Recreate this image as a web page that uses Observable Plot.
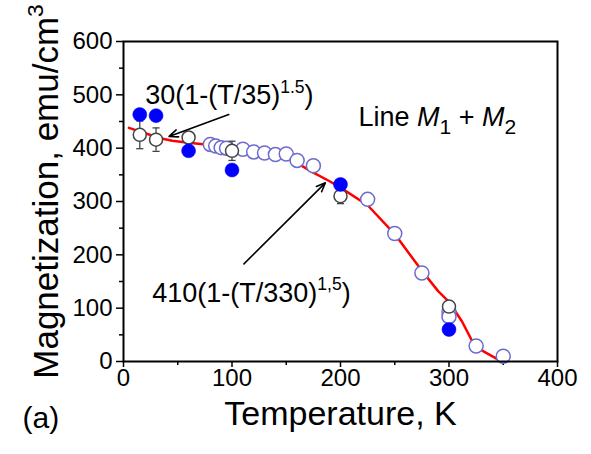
<!DOCTYPE html>
<html>
<head>
<meta charset="utf-8">
<script src="https://cdn.jsdelivr.net/npm/d3@7"></script>
<script src="https://cdn.jsdelivr.net/npm/@observablehq/plot@0.6"></script>
<style>
  html, body { margin: 0; padding: 0; background: white; }
</style>
</head>
<body>
<div id="chart"></div>
<script>
// Fit line (M1 + M2)
const fitT = [5, 20, 35, 45, 60, 80, 100, 120, 140, 150, 160, 175, 190, 200, 225, 250, 275, 290, 300, 312, 324, 345];
const fitM = [438, 428, 418, 414, 410, 406, 402, 397, 390, 383, 372, 354, 338, 326, 293, 239, 170, 132, 112, 75, 28, 4];

// Open blue circles
const openT = [80, 85, 90, 95, 110, 120, 130, 140, 150, 160, 175, 225, 250, 275, 300, 300, 325, 350];
const openM = [407, 404, 401, 400, 398, 393, 391, 388, 389, 377, 367, 304, 240, 166, 93, 84, 29, 10];

// Open black circles with error bars
const errT = [15, 30, 60, 100, 200, 300];
const errM = [425, 416, 420, 395, 310, 103];
const errD = [26, 22, 10, 18, 14, 6];

// Filled blue circles
const fillT = [15, 30, 60, 100, 200, 300];
const fillM = [463, 461, 395, 359, 332, 60];

// Axis ticks
const xTicks = [0, 100, 200, 300, 400];
const xMinor = [50, 150, 250, 350];
const yTicks = [0, 100, 200, 300, 400, 500, 600];
const yMinor = [50, 150, 250, 350, 450, 550];

// Texts
const xLabel = "Temperature, K";
const yLabel = "Magnetization, emu/cm^{3}";
const panelLabel = "(a)";
const noteLow = "30(1-(T/35)^{1.5})";
const noteHigh = "410(1-(T/330)^{1,5})";
const noteLine = "Line *{M}_{1} + *{M}_{2}";

const fit = fitT.map((T, i) => ({T, M: fitM[i]}));
const open = openT.map((T, i) => ({T, M: openM[i]}));
const err = errT.map((T, i) => ({T, M: errM[i], d: errD[i]}));
const filled = fillT.map((T, i) => ({T, M: fillM[i]}));
const arrows = [
  {x1: 97, y1: 463, x2: 42, y2: 422},
  {x1: 111, y1: 183, x2: 186, y2: 335}
];

const font = "'Liberation Sans', Arial, Helvetica, sans-serif";

const chart = Plot.plot({
  width: 591,
  height: 454,
  marginLeft: 123,
  marginRight: 34,
  marginTop: 41,
  marginBottom: 93,
  x: {domain: [0, 400], label: null},
  y: {domain: [0, 600], label: null},
  style: {fontFamily: font, fontSize: "24px", color: "black", background: "white"},
  marks: [
    Plot.axisX({ticks: xTicks, tickSize: 6, tickPadding: 1, strokeWidth: 1.5, label: null, fontSize: 24}),
    Plot.axisX({ticks: xMinor, tickSize: 4, strokeWidth: 1.5, tickFormat: () => "", label: null}),
    Plot.axisY({ticks: yTicks, tickSize: 7, tickPadding: 4, strokeWidth: 1.5, label: null, fontSize: 24}),
    Plot.axisY({ticks: yMinor, tickSize: 4, strokeWidth: 1.5, tickFormat: () => "", label: null}),
    Plot.line(fit, {x: "T", y: "M", stroke: "#ff0000", strokeWidth: 2.5}),
    Plot.dot(open, {x: "T", y: "M", r: 7, stroke: "#6b6bd0", strokeWidth: 1.5, fill: "white"}),
    Plot.ruleX(err, {x: "T", y1: d => d.M - d.d, y2: d => d.M + d.d, stroke: "#444", strokeWidth: 1.3}),
    Plot.link(err, {x1: d => d.T - 3.3, x2: d => d.T + 3.3, y1: d => d.M - d.d, y2: d => d.M - d.d, stroke: "#444", strokeWidth: 1.3}),
    Plot.link(err, {x1: d => d.T - 3.3, x2: d => d.T + 3.3, y1: d => d.M + d.d, y2: d => d.M + d.d, stroke: "#444", strokeWidth: 1.3}),
    Plot.dot(err, {x: "T", y: "M", r: 6.5, stroke: "#444", strokeWidth: 1.5, fill: "white"}),
    Plot.dot(filled, {x: "T", y: "M", r: 7, fill: "#0000ff", stroke: "#0000ff", strokeWidth: 0.5}),
    Plot.arrow(arrows, {x1: "x1", y1: "y1", x2: "x2", y2: "y2", stroke: "black", strokeWidth: 1.6, headLength: 9, headAngle: 45}),
    Plot.text([noteLow], {x: 20, y: 482, text: d => d, textAnchor: "start", lineAnchor: "bottom", fontSize: 27}),
    Plot.text([noteHigh], {x: 26.5, y: 112, text: d => d, textAnchor: "start", lineAnchor: "bottom", fontSize: 27}),
    Plot.text([noteLine], {x: 216.5, y: 441, text: d => d, textAnchor: "start", lineAnchor: "bottom", fontSize: 27}),
    Plot.text([xLabel], {frameAnchor: "bottom", dy: 63, text: d => d, textAnchor: "middle", fontSize: 34}),
    Plot.text([panelLabel], {frameAnchor: "bottom-left", dx: -101, dy: 66, text: d => d, textAnchor: "start", fontSize: 30}),
    Plot.text([yLabel], {frameAnchor: "left", dx: -77, dy: -10, rotate: -90, text: d => d, textAnchor: "middle", fontSize: 35}),
    Plot.frame({stroke: "black", strokeWidth: 2})
  ]
});

document.getElementById("chart").appendChild(chart);

// Turn ^{..}, _{..}, *{..} markers into tspans (superscript, subscript, italic)
function richify(svg) {
  svg.querySelectorAll("text").forEach(t => {
    const s = t.textContent;
    if (!/[\^_*]\{/.test(s)) return;
    const fs = parseFloat(getComputedStyle(t).fontSize) || 20;
    const re = /([\^_*])\{([^}]*)\}/g;
    const parts = [];
    let last = 0, m;
    while ((m = re.exec(s))) {
      if (m.index > last) parts.push({kind: "n", text: s.slice(last, m.index)});
      parts.push({kind: m[1], text: m[2]});
      last = re.lastIndex;
    }
    if (last < s.length) parts.push({kind: "n", text: s.slice(last)});
    while (t.firstChild) t.removeChild(t.firstChild);
    const ns = "http://www.w3.org/2000/svg";
    let shift = 0;
    for (const p of parts) {
      const ts = document.createElementNS(ns, "tspan");
      ts.textContent = p.text;
      let target = 0;
      if (p.kind === "^") { target = -0.42 * fs; ts.setAttribute("font-size", (0.65 * fs) + "px"); }
      else if (p.kind === "_") { target = 0.3 * fs; ts.setAttribute("font-size", (0.78 * fs) + "px"); }
      else if (p.kind === "*") { ts.setAttribute("font-style", "italic"); }
      if (target !== shift) { ts.setAttribute("dy", (target - shift) + "px"); shift = target; }
      t.appendChild(ts);
    }
  });
}
richify(chart);
</script>
</body>
</html>
